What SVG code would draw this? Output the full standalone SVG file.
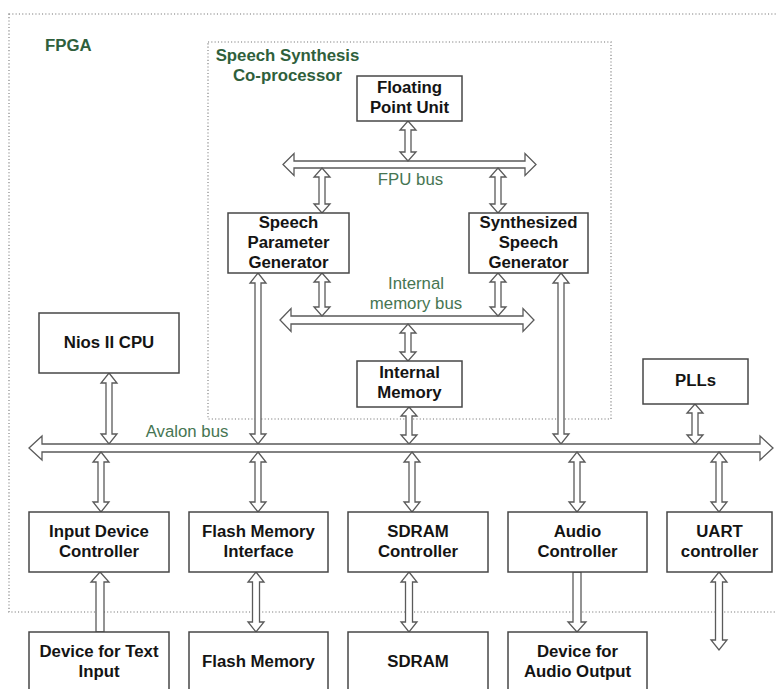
<svg xmlns="http://www.w3.org/2000/svg" width="776" height="689" viewBox="0 0 776 689">
  <style>
    .frame { fill: none; stroke: #a3a3a3; stroke-width: 1.6; stroke-dasharray: 1.1 2.2; }
    .box { fill: #ffffff; stroke: #474747; stroke-width: 1.5; }
    .lbl { font-family: "Liberation Sans", Arial, sans-serif; font-size: 16.8px; font-weight: bold; fill: #141414; text-anchor: middle; }
    .grp { font-family: "Liberation Sans", Arial, sans-serif; font-size: 16.8px; font-weight: bold; fill: #2f5f3c; }
    .bus { font-family: "Liberation Sans", Arial, sans-serif; font-size: 16.8px; fill: #467552; text-anchor: middle; }
    .arw { fill: #ffffff; stroke: #5a5a5a; stroke-width: 1.3; stroke-linejoin: miter; }
  </style>

  <rect width="776" height="689" fill="#ffffff"/>

  <!-- enclosing regions -->
  <g id="regions">
    <rect class="frame" x="9" y="14" width="800" height="598"/>
    <text class="grp" x="45" y="51">FPGA</text>
    <rect class="frame" x="208" y="42" width="403" height="377"/>
    <text class="grp" x="287.5" y="61" text-anchor="middle">Speech Synthesis</text>
    <text class="grp" x="287.5" y="81" text-anchor="middle">Co-processor</text>
  </g>

  <!-- buses and links -->
  <g id="connectors">
    <!-- FPU bus -->
    <path class="arw" d="M283,164.5 L294,153.5 L294,161 L525,161 L525,153.5 L536,164.5 L525,175.5 L525,168 L294,168 L294,175.5 Z"/>
    <!-- internal memory bus -->
    <path class="arw" d="M280,320 L291,308.5 L291,316 L523,316 L523,308.5 L534,320 L523,331.5 L523,324 L291,324 L291,331.5 Z"/>

    <!-- FPU <-> FPU bus -->
    <path class="arw" d="M408,121 L416,130 L411,130 L411,152 L416,152 L408,161 L400,152 L405,152 L405,130 L400,130 Z"/>
    <!-- FPU bus <-> speech parameter generator -->
    <path class="arw" d="M322,168 L330,177 L325,177 L325,204 L330,204 L322,213 L314,204 L319,204 L319,177 L314,177 Z"/>
    <!-- FPU bus <-> synthesized speech generator -->
    <path class="arw" d="M498,168 L506,177 L501,177 L501,204 L506,204 L498,213 L490,204 L495,204 L495,177 L490,177 Z"/>
    <!-- speech parameter generator <-> internal bus -->
    <path class="arw" d="M322,273 L330,282 L325,282 L325,307 L330,307 L322,316 L314,307 L319,307 L319,282 L314,282 Z"/>
    <!-- synthesized speech generator <-> internal bus -->
    <path class="arw" d="M498,273 L506,282 L501,282 L501,307 L506,307 L498,316 L490,307 L495,307 L495,282 L490,282 Z"/>
    <!-- internal bus <-> internal memory -->
    <path class="arw" d="M408,324 L416,333 L411,333 L411,352 L416,352 L408,361 L400,352 L405,352 L405,333 L400,333 Z"/>

    <!-- links onto the Avalon bus from above -->
    <path class="arw" d="M409,407 L417,416 L412,416 L412,435 L417,435 L409,444 L401,435 L406,435 L406,416 L401,416 Z"/>
    <path class="arw" d="M258,273 L266,283 L261,283 L261,434 L266,434 L258,444 L250,434 L255,434 L255,283 L250,283 Z"/>
    <path class="arw" d="M561,273 L569,283 L564,283 L564,434 L569,434 L561,444 L553,434 L558,434 L558,283 L553,283 Z"/>
    <path class="arw" d="M109,373 L117,383 L112,383 L112,434 L117,434 L109,444 L101,434 L106,434 L106,383 L101,383 Z"/>
    <path class="arw" d="M695,404 L703,413 L698,413 L698,435 L703,435 L695,444 L687,435 L692,435 L692,413 L687,413 Z"/>

    <!-- Avalon bus -->
    <path class="arw" d="M29,448 L42,436 L42,444 L760,444 L760,436 L773,448 L760,460 L760,452 L42,452 L42,460 Z"/>

    <!-- links from the Avalon bus down to the controllers -->
    <path class="arw" d="M101,452 L109,462 L104,462 L104,502 L109,502 L101,512 L93,502 L98,502 L98,462 L93,462 Z"/>
    <path class="arw" d="M258,452 L266,462 L261,462 L261,502 L266,502 L258,512 L250,502 L255,502 L255,462 L250,462 Z"/>
    <path class="arw" d="M412,452 L420,462 L415,462 L415,502 L420,502 L412,512 L404,502 L409,502 L409,462 L404,462 Z"/>
    <path class="arw" d="M577,452 L585,462 L580,462 L580,502 L585,502 L577,512 L569,502 L574,502 L574,462 L569,462 Z"/>
    <path class="arw" d="M719,452 L727,462 L722,462 L722,502 L727,502 L719,512 L711,502 L716,502 L716,462 L711,462 Z"/>

    <!-- off-chip links -->
    <path class="arw" d="M100,572 L109,582 L104,582 L104,632 L96,632 L96,582 L91,582 Z"/>
    <path class="arw" d="M256,572 L264,582 L259.5,582 L259.5,622 L264,622 L256,632 L248,622 L252.5,622 L252.5,582 L248,582 Z"/>
    <path class="arw" d="M409,572 L417,582 L412.5,582 L412.5,622 L417,622 L409,632 L401,622 L405.5,622 L405.5,582 L401,582 Z"/>
    <path class="arw" d="M577,632 L586,622 L581,622 L581,572 L573,572 L573,622 L568,622 Z"/>
    <path class="arw" d="M719,572 L727,582 L722.5,582 L722.5,640 L727,640 L719,650 L711,640 L715.5,640 L715.5,582 L711,582 Z"/>
  </g>

  <text class="bus" x="410.5" y="185">FPU bus</text>
  <text class="bus" x="416" y="289">Internal</text>
  <text class="bus" x="416" y="309">memory bus</text>
  <text class="bus" x="187" y="437">Avalon bus</text>

  <!-- co-processor blocks -->
  <g id="fpu">
    <rect class="box" x="357" y="76" width="105" height="45"/>
    <text class="lbl" x="409.5" y="93">Floating</text>
    <text class="lbl" x="409.5" y="113">Point Unit</text>
  </g>
  <g id="speech-parameter-generator">
    <rect class="box" x="228" y="213" width="121" height="60"/>
    <text class="lbl" x="288.5" y="228">Speech</text>
    <text class="lbl" x="288.5" y="248">Parameter</text>
    <text class="lbl" x="288.5" y="268">Generator</text>
  </g>
  <g id="synthesized-speech-generator">
    <rect class="box" x="469" y="213" width="119" height="60"/>
    <text class="lbl" x="528.5" y="228">Synthesized</text>
    <text class="lbl" x="528.5" y="248">Speech</text>
    <text class="lbl" x="528.5" y="268">Generator</text>
  </g>
  <g id="internal-memory">
    <rect class="box" x="357" y="361" width="105" height="46"/>
    <text class="lbl" x="409.5" y="378">Internal</text>
    <text class="lbl" x="409.5" y="398">Memory</text>
  </g>

  <!-- system blocks -->
  <g id="nios-cpu">
    <rect class="box" x="39" y="313" width="140" height="60"/>
    <text class="lbl" x="109" y="348">Nios II CPU</text>
  </g>
  <g id="plls">
    <rect class="box" x="643" y="359" width="105" height="45"/>
    <text class="lbl" x="695.5" y="386">PLLs</text>
  </g>

  <!-- controllers -->
  <g id="input-device-controller">
    <rect class="box" x="29" y="512" width="140" height="60"/>
    <text class="lbl" x="99" y="537">Input Device</text>
    <text class="lbl" x="99" y="557">Controller</text>
  </g>
  <g id="flash-memory-interface">
    <rect class="box" x="189" y="512" width="139" height="60"/>
    <text class="lbl" x="258.5" y="537">Flash Memory</text>
    <text class="lbl" x="258.5" y="557">Interface</text>
  </g>
  <g id="sdram-controller">
    <rect class="box" x="348" y="512" width="140" height="60"/>
    <text class="lbl" x="418" y="537">SDRAM</text>
    <text class="lbl" x="418" y="557">Controller</text>
  </g>
  <g id="audio-controller">
    <rect class="box" x="508" y="512" width="139" height="60"/>
    <text class="lbl" x="577.5" y="537">Audio</text>
    <text class="lbl" x="577.5" y="557">Controller</text>
  </g>
  <g id="uart-controller">
    <rect class="box" x="667" y="512" width="105" height="60"/>
    <text class="lbl" x="719.5" y="537">UART</text>
    <text class="lbl" x="719.5" y="557">controller</text>
  </g>

  <!-- off-chip devices -->
  <g id="text-input-device">
    <rect class="box" x="29" y="632" width="140" height="70"/>
    <text class="lbl" x="99" y="657">Device for Text</text>
    <text class="lbl" x="99" y="677">Input</text>
  </g>
  <g id="flash-memory">
    <rect class="box" x="189" y="632" width="139" height="70"/>
    <text class="lbl" x="258.5" y="667">Flash Memory</text>
  </g>
  <g id="sdram">
    <rect class="box" x="348" y="632" width="140" height="70"/>
    <text class="lbl" x="418" y="667">SDRAM</text>
  </g>
  <g id="audio-output-device">
    <rect class="box" x="508" y="632" width="139" height="70"/>
    <text class="lbl" x="577.5" y="657">Device for</text>
    <text class="lbl" x="577.5" y="677">Audio Output</text>
  </g>
</svg>
